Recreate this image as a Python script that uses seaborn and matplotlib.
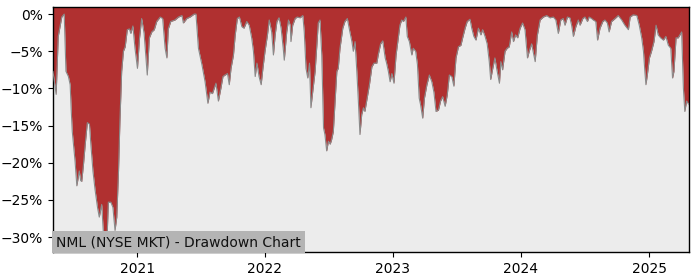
import numpy as np
import pandas as pd
import matplotlib
matplotlib.use("Agg")
import matplotlib.pyplot as plt
import matplotlib.dates as mdates
from matplotlib.ticker import PercentFormatter
import seaborn as sns

# days after 2021-01-01 and drawdown (%)
days = [-240, -231, -225, -220, -215, -208, -203, -196, -191, -188, -185, -177, -172, -165, -161, -158,
        -153, -148, -142, -136, -132, -126, -120, -113, -108, -101, -96, -91, -86, -82, -75, -69,
        -63, -58, -53, -49, -44, -39, -34, -28, -22, -18, -12, -6, 1, 7, 13, 20, 29, 35, 42, 49,
        56, 66, 73, 80, 85, 89, 96, 108, 118, 128, 132, 142, 151, 163, 168, 175, 185, 194, 202,
        208, 215, 225, 232, 239, 245, 251, 258, 263, 268, 275, 280, 286, 292, 299, 305, 313, 320,
        327, 332, 337, 342, 348, 354, 359, 365, 372, 377, 384, 389, 394, 399, 405, 411, 417, 420,
        427, 432, 437, 439, 444, 451, 457, 465, 473, 477, 482, 487, 492, 496, 501, 508, 513, 517,
        522, 527, 532, 536, 541, 546, 551, 555, 560, 565, 570, 574, 579, 587, 593, 600, 606, 613,
        617, 622, 627, 631, 636, 641, 646, 650, 655, 663, 670, 676, 684, 688, 695, 701, 708, 712,
        717, 722, 727, 733, 739, 744, 750, 755, 760, 767, 771, 777, 784, 788, 795, 800, 805, 809,
        815, 820, 827, 834, 841, 847, 853, 860, 866, 872, 879, 885, 891, 898, 904, 910, 917, 924,
        929, 936, 942, 950, 955, 961, 967, 974, 981, 986, 993, 999, 1005, 1009, 1015, 1021, 1026,
        1034, 1038, 1043, 1050, 1056, 1062, 1069, 1074, 1080, 1086, 1093, 1100, 1107, 1114, 1119,
        1126, 1130, 1136, 1142, 1150, 1159, 1169, 1178, 1188, 1195, 1202, 1209, 1216, 1221, 1228,
        1235, 1240, 1245, 1252, 1259, 1264, 1272, 1278, 1285, 1290, 1297, 1302, 1309, 1314, 1321,
        1329, 1335, 1342, 1347, 1354, 1364, 1373, 1383, 1392, 1402, 1407, 1416, 1426, 1433, 1440,
        1445, 1449, 1452, 1456, 1462, 1468, 1475, 1481, 1487, 1494, 1502, 1509, 1516, 1523, 1528,
        1532, 1538, 1544, 1549, 1554, 1559, 1563, 1568, 1575]

drawdown = [-7.7, -10.8, -3.0, -1.7, -0.4, 0.0, -7.7, -8.4, -9.5, -12.9, -15.8, -19.8, -23.1, -21.1, -22.4, -22.5,
            -20.2, -17.5, -14.6, -14.8, -17.5, -21.1, -23.6, -26.0, -27.3, -25.6, -29.6, -31.8, -30.5, -25.3, -25.3, -26.0,
            -29.1, -27.3, -21.1, -14.4, -7.7, -5.0, -4.4, -2.1, -2.0, -2.6, -1.6, -4.6, -7.3, -3.2, -0.6, -2.6, -8.2, -3.2, -2.4, -2.1,
            -1.0, -0.4, -0.6, -4.6, -5.9, -2.0, -1.0, -0.8, -0.4, -0.2, -1.2, -0.6, -0.4, 0.0, 0.0, -4.6, -6.8, -9.1, -12.0,
            -10.5, -10.7, -9.3, -11.7, -10.0, -8.4, -8.2, -8.0, -9.5, -7.3, -5.5, -2.8, -0.6, -0.4, -1.7, -1.9, -1.0, -1.5,
            -3.2, -5.0, -8.4, -6.6, -8.4, -9.5, -7.3, -5.0, -2.8, -0.8, -2.4, -5.5, -2.8, -1.0, -0.5, -1.9, -4.6, -6.2,
            -2.4, -0.8, -1.5, -3.7, -1.5, -0.6, -0.4, -0.5, -0.2, -2.4, -7.3, -8.6, -6.6, -12.6, -10.5, -7.7, -4.2, -1.2,
            -0.8, -5.5, -15.3, -16.2, -18.4, -17.1, -17.5, -16.9, -15.8, -11.7, -7.7, -7.3, -4.6, -1.9, -1.0, -0.6, -2.1, -3.7,
            -5.0, -3.7, -7.7, -11.3, -16.2, -13.5, -12.6, -13.1, -11.7, -9.5, -7.1, -6.6, -6.6, -5.5, -4.0, -3.6, -5.9, -6.6,
            -7.7, -9.1, -8.0, -9.3, -5.5, -3.7, -1.5, -0.8, -1.0, -0.4, -3.0, -3.7, -5.5, -4.6, -5.0, -6.8, -11.3, -12.2,
            -14.0, -11.3, -9.5, -8.2, -9.1, -10.5, -13.1, -12.9, -11.7, -11.1, -12.4, -10.9, -8.2, -8.4, -9.7, -5.9, -4.4, -4.2,
            -3.2, -1.9, -1.0, -0.7, -1.9, -3.0, -3.5, -1.9, -2.8, -2.1, -3.0, -4.0, -6.4, -8.8, -7.3, -5.9, -7.3,
            -9.3, -6.4, -7.5, -5.0, -4.6, -4.4, -2.4, -3.7, -2.8, -3.2, -1.9, -1.2, -2.1, -5.9, -5.0,
            -4.0, -5.0, -6.4, -2.9, -0.8, -0.4, -0.2, -0.5, -0.4, -0.8, -2.6, -0.8, -0.6, -1.5, -0.4,
            -0.5, -1.5, -3.0, -1.7, -0.8, -1.5, -0.6, -0.4, -1.0, -0.4, -0.6, -0.8, -1.0, -3.5, -1.9,
            -1.0, -0.8, -1.2, -2.4, -1.0, -0.6, -0.2, -0.8, -1.5, -2.1, -0.4, -0.1, -0.2, -1.5, -3.2,
            -5.0, -7.7, -9.5, -8.2, -5.9, -5.0, -3.7, -1.5, -2.8, -3.2, -3.5, -3.0, -4.2, -4.6, -8.6,
            -7.7, -3.2, -3.2, -2.8, -2.4, -10.0, -13.1, -11.7, -12.2]

title = "NML (NYSE MKT) - Drawdown Chart"
y_ticks = [0, -5, -10, -15, -20, -25, -30]

df = pd.DataFrame({
    "date": pd.Timestamp("2021-01-01") + pd.to_timedelta(days, unit="D"),
    "drawdown": drawdown,
})

sns.set_style("ticks")
plt.rcParams["font.family"] = ["DejaVu Sans"]

fig = plt.figure(figsize=(7.0, 2.8), dpi=100)
ax = fig.add_axes([0.0757, 0.1, 0.9086, 0.875])
ax.set_facecolor("#ececec")

ax.fill_between(df["date"], df["drawdown"], 5, color="#b03030", linewidth=0, zorder=2)
sns.lineplot(data=df, x="date", y="drawdown", ax=ax, color="#8a8a8a", linewidth=0.8, zorder=3)

ax.set_xlim(df["date"].min(), df["date"].max())
ax.set_ylim(-32.0, 0.95)
ax.set_yticks(y_ticks)
ax.yaxis.set_major_formatter(PercentFormatter(decimals=0))
ax.xaxis.set_major_locator(mdates.YearLocator())
ax.xaxis.set_major_formatter(mdates.DateFormatter("%Y"))
ax.set_xlabel("")
ax.set_ylabel("")
ax.tick_params(axis="both", labelsize=10, length=3.5, width=0.8, colors="black")
for s in ax.spines.values():
    s.set_visible(True)
    s.set_color("black")
    s.set_linewidth(1.0)

ax.text(0.005, 0.012, title, transform=ax.transAxes, fontsize=10, color="#111111",
        va="bottom", ha="left", zorder=5,
        bbox=dict(facecolor="#b4b4b4", edgecolor="none", boxstyle="square,pad=0.3"))

fig.savefig("out.png", dpi=100)
